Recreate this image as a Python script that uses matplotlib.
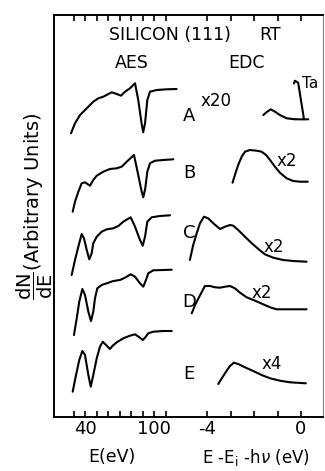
import matplotlib
matplotlib.use("Agg")
import matplotlib.pyplot as plt

plt.rcParams['font.family'] = ['DejaVu Sans']
plt.rcParams['axes.unicode_minus'] = False

# AES curves: energy (eV) and dN/dE (arbitrary, offset per spectrum)
aes_a_x = [27.8, 31.3, 35.7, 41.5, 47.2, 51.6, 55.9, 63.2, 67.6, 71.3, 74.8, 79.1, 83.5,
           86.3, 89.2, 90.6, 92.2, 94.2, 96.5, 102.3, 111.0, 119.7]
aes_a_y = [283.7, 293.7, 302, 308.7, 315.3, 318.7, 320.3, 324.7, 323, 321.3, 325.3, 328.7, 333.7,
           317, 293.7, 284.7, 293.7, 317, 325.3, 327, 327.7, 328]
aes_b_x = [29.3, 31.3, 34.2, 37.1, 40.0, 44.3, 47.2, 50.2, 55.9, 61.7, 67.6, 71.9, 76.3, 82.6,
           86.3, 89.3, 90.7, 92.4, 94.2, 96.5, 100.9, 108.1, 116.8]
aes_b_y = [205.3, 215.3, 225.3, 233.7, 234.7, 231.3, 237, 241.3, 245.3, 248, 248.7, 250.3, 255.3, 262,
           242, 225.3, 219.7, 228.7, 245.3, 253.7, 256.3, 257, 257.7]
aes_c_x = [28.4, 31.3, 34.2, 37.1, 39.1, 41.5, 43.7, 45.8, 47.2, 50.2, 54.5, 58.9, 64.6, 69.0,
           73.3, 79.7, 83.5, 87.8, 90.2, 92.2, 94.2, 98.0, 105.2, 113.9]
aes_c_y = [142, 157, 170.3, 183, 178.7, 167, 157.7, 163.7, 173.7, 180.3, 185.3, 187.7, 188.7, 191,
           195.3, 199.7, 190.3, 177, 171.3, 180.3, 195.3, 199.7, 201, 201.7]
aes_d_x = [30.4, 32.8, 35.0, 37.7, 40.0, 42.9, 45.2, 47.2, 48.7, 50.7, 54.5, 58.9, 64.6, 70.4,
           74.8, 79.7, 83.5, 87.8, 90.7, 93.0, 95.0, 99.4, 108.1, 115.4]
aes_d_y = [82, 98.7, 115.3, 128, 122, 105.3, 96, 105.3, 118.7, 128.7, 132, 133.7, 136, 137,
           139.3, 142.7, 140.3, 133.7, 130.3, 137, 143.7, 146.7, 147, 147.3]
aes_e_x = [29.3, 32.2, 35.0, 37.7, 40.0, 42.9, 45.0, 47.2, 50.2, 53.0, 55.4, 58.9, 61.7, 64.1,
           67.6, 73.3, 79.1, 83.5, 87.8, 90.2, 92.2, 95.0, 99.4, 108.1, 115.4]
aes_e_y = [25.3, 42, 57, 66, 62, 42, 30.3, 42, 58.7, 70.3, 75.3, 71.3, 68, 71.3,
           74.7, 78.7, 81.3, 82.7, 79.3, 77, 79.3, 83.7, 85.3, 86, 86]

# EDC curves: E - Ei - hv (eV)
edc_a_x = [-1.61, -1.44, -1.29, -1.11, -0.90, -0.61, -0.26, 0.10, 0.31]
edc_a_y = [302, 305.3, 307.7, 305.3, 302, 298.7, 297.7, 297.7, 297.7]
ta_x = [0.13, -0.12, -0.26, -0.30]
ta_y = [297.7, 334.3, 336.3, 333.5]
edc_b_x = [-2.92, -2.82, -2.68, -2.53, -2.39, -2.18, -1.89, -1.68, -1.49, -1.32, -1.11, -0.90,
           -0.61, -0.33, -0.04, 0.29]
edc_b_y = [234.3, 242, 252, 260.3, 265.3, 267, 266.3, 265.3, 262, 257, 250.3, 244.3,
           238.7, 236, 235.3, 235.3]
edc_c_x = [-4.74, -4.60, -4.45, -4.31, -4.14, -3.96, -3.74, -3.46, -3.24, -3.03, -2.89, -2.68,
           -2.39, -2.10, -1.82, -1.54, -1.18, -0.76, -0.33, 0.24]
edc_c_y = [157, 172, 183.7, 193.7, 200.3, 198.7, 193.7, 188, 190.3, 192, 191.3, 187,
           180.3, 173.7, 168, 162.7, 159.3, 157, 156, 155.3]
edc_d_x = [-4.66, -4.52, -4.34, -4.10, -3.88, -3.67, -3.46, -3.24, -3.03, -2.82, -2.60, -2.32,
           -1.96, -1.61, -1.32, -1.04, -0.61, 0.24]
edc_d_y = [103.7, 112, 120.3, 131, 131, 129.7, 129.3, 130.3, 131, 128.7, 124.3, 119.7,
           116.3, 112.7, 109.7, 107.7, 107.7, 107.7]
edc_e_x = [-3.53, -3.38, -3.20, -3.03, -2.86, -2.68, -2.39, -2.04, -1.68, -1.32, -0.90, -0.47, 0.21]
edc_e_y = [33, 38.7, 45.3, 51, 54.3, 53, 49.7, 46, 42, 38.7, 36.3, 34.7, 33.7]

labels = ["A", "B", "C", "D", "E"]
label_y = [301, 244, 184, 115, 43]
mult_text = ["x20", "x2", "x2", "x2", "x4"]
mult_x = [-3.63, -0.60, -1.18, -1.68, -1.25]
mult_y = [316, 256, 169.5, 124.5, 53]

aes_ticks = [30, 40, 50, 60, 70, 80, 90, 100, 110]
aes_labels = ["", "40", "", "", "", "", "", "100", ""]
edc_ticks = [-4, -3, -2, -1, 0]
edc_labels = ["-4", "", "", "", "0"]

fig = plt.figure(figsize=(3.25, 4.71), dpi=100)
pos = [54 / 325, 1 - 417 / 471, 269 / 325, 402 / 471]
ax = fig.add_axes(pos)
ax2 = fig.add_axes(pos)
ax2.patch.set_visible(False)

lw = 1.5
for xs, ys in [(aes_a_x, aes_a_y), (aes_b_x, aes_b_y), (aes_c_x, aes_c_y),
               (aes_d_x, aes_d_y), (aes_e_x, aes_e_y)]:
    ax.plot(xs, ys, 'k-', lw=lw, solid_capstyle='round', solid_joinstyle='round')
for xs, ys in [(edc_a_x, edc_a_y), (ta_x, ta_y), (edc_b_x, edc_b_y), (edc_c_x, edc_c_y),
               (edc_d_x, edc_d_y), (edc_e_x, edc_e_y)]:
    ax2.plot(xs, ys, 'k-', lw=lw, solid_capstyle='round', solid_joinstyle='round')

ax.set_xlim(13.04, 246.96)
ax2.set_xlim(-10.54, 0.94)
ax.set_ylim(0, 402)
ax2.set_ylim(0, 402)

for lab, ly in zip(labels, label_y):
    ax.text(130.4, ly, lab, fontsize=13, ha='center', va='center')
for t, mx, my in zip(mult_text, mult_x, mult_y):
    ax2.text(mx, my, t, fontsize=12, ha='center', va='center')
ax2.text(0.38, 334, "Ta", fontsize=11, ha='center', va='center')

# frame
for s in ['left', 'bottom', 'top']:
    ax.spines[s].set_linewidth(1.4)
ax.spines['right'].set_linewidth(0.8)
ax.spines['right'].set_color('0.5')
for s in ax2.spines.values():
    s.set_visible(False)

ax.set_yticks([])
ax2.set_yticks([])
ax.set_xticks(aes_ticks)
ax.set_xticklabels(aes_labels)
ax2.set_xticks(edc_ticks)
ax2.set_xticklabels(edc_labels)
for a in (ax, ax2):
    a.tick_params(axis='x', direction='in', top=True, bottom=True, length=4,
                  width=1.2, labelsize=13, pad=2)

fig.text(170 / 325, 1 - 35 / 471, "SILICON (111)", fontsize=12.5, ha='center', va='center')
fig.text(270 / 325, 1 - 35 / 471, "RT", fontsize=12.5, ha='center', va='center')
fig.text(132 / 325, 1 - 63 / 471, "AES", fontsize=12.5, ha='center', va='center')
fig.text(247 / 325, 1 - 63 / 471, "EDC", fontsize=12.5, ha='center', va='center')
fig.text(112 / 325, 1 - 457 / 471, "E(eV)", fontsize=12.5, ha='center', va='center')
fig.text(256 / 325, 1 - 457 / 471, r"E -E$_\mathregular{i}$ -h$\nu$ (eV)", fontsize=12,
         ha='center', va='center')
fig.text(35 / 325, 1 - 206 / 471, r"$\dfrac{\mathrm{dN}}{\mathrm{dE}}$(Arbitrary Units)",
         fontsize=14, rotation=90, ha='center', va='center')

fig.savefig("out.png", dpi=100)
